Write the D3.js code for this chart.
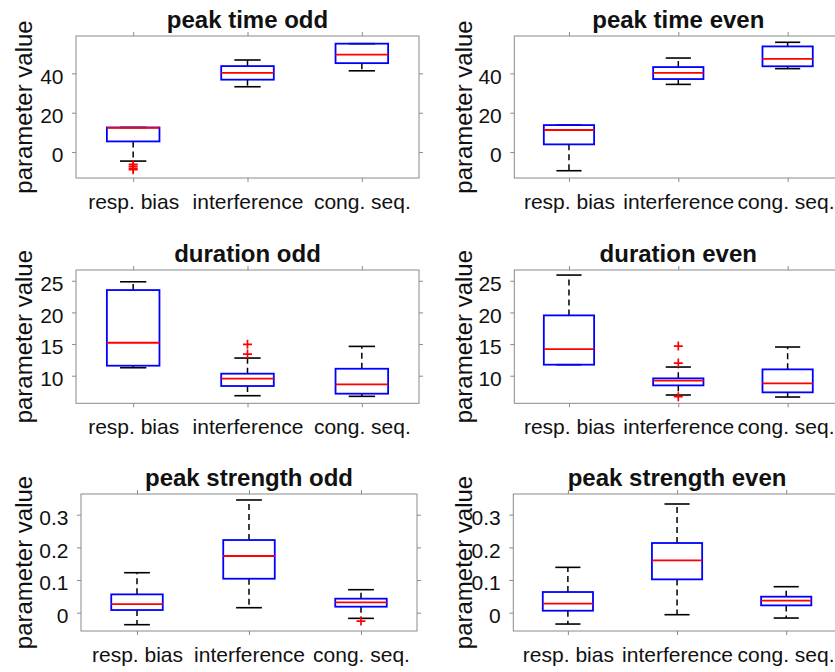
<!DOCTYPE html>
<html>
<head>
<meta charset="utf-8">
<script src="https://cdn.jsdelivr.net/npm/d3@7"></script>
<style>
  body { margin: 0; background: #fff; }
  svg { display: block; }
  text { font-family: "Liberation Sans", Arial, Helvetica, sans-serif; fill: #111; }
</style>
</head>
<body>
<svg id="chart" width="835" height="672"></svg>
<script>
// Groups on the x axis
const categories = ["resp. bias", "interference", "cong. seq."];

// Box statistics per group: [lower whisker, q1, median, q3, upper whisker]
const peakTimeOdd = [[-4.6, 5.4, 12.3, 12.5, 12.5], [33.2, 36.8, 40.3, 43.7, 46.8], [41.3, 45.2, 49.5, 55.1, 55.1]];
const peakTimeEven = [[-9.5, 3.9, 11.2, 13.7, 13.7], [34.4, 37.1, 40.3, 43.2, 47.8], [42.4, 43.6, 47.4, 53.7, 55.8]];
const durationOdd = [[11.26, 11.58, 15.21, 23.53, 24.84], [6.84, 8.37, 9.53, 10.32, 12.79], [6.74, 7.16, 8.63, 11.1, 14.63]];
const durationEven = [[11.74, 11.74, 14.21, 19.53, 25.9], [6.95, 8.47, 9.21, 9.58, 11.37], [6.63, 7.37, 8.79, 11.0, 14.53]];
const strengthOdd = [[-0.0367, 0.0082, 0.0265, 0.0561, 0.1224], [0.0153, 0.104, 0.1735, 0.2224, 0.345], [-0.0173, 0.0184, 0.0316, 0.0429, 0.0704]];
const strengthEven = [[-0.0347, 0.0061, 0.0276, 0.0633, 0.1388], [-0.0061, 0.102, 0.160, 0.2133, 0.3327], [-0.0163, 0.0224, 0.0367, 0.049, 0.0796]];

// Outliers per group
const peakTimeOddOut = [[-6.3, -7.3, -8.3, -9.0], [], []];
const peakTimeEvenOut = [[], [], []];
const durationOddOut = [[], [13.42, 14.95], []];
const durationEvenOut = [[], [12.0, 14.68, 6.68], []];
const strengthOddOut = [[], [], [-0.0255]];
const strengthEvenOut = [[], [], []];

// Panel titles, y limits and y tick values
const titles = ["peak time odd", "peak time even", "duration odd", "duration even", "peak strength odd", "peak strength even"];
const yLimits = [[-13.2, 59], [-13.2, 59], [5.64, 26.7], [5.64, 26.7], [-0.056, 0.3633], [-0.056, 0.3633]];
const yTicks = [[0, 20, 40], [0, 20, 40], [10, 15, 20, 25], [10, 15, 20, 25], [0, 0.1, 0.2, 0.3], [0, 0.1, 0.2, 0.3]];
const yTickLabels = [["0", "20", "40"], ["0", "20", "40"], ["10", "15", "20", "25"], ["10", "15", "20", "25"], ["0", "0.1", "0.2", "0.3"], ["0", "0.1", "0.2", "0.3"]];
const yLabel = "parameter value";

const stats = [peakTimeOdd, peakTimeEven, durationOdd, durationEven, strengthOdd, strengthEven];
const outliers = [peakTimeOddOut, peakTimeEvenOut, durationOddOut, durationEvenOut, strengthOddOut, strengthEvenOut];

// Axes frames [left, top, right, bottom] and y-label baseline x
const frames = [
  [76, 36, 419, 178], [514.3, 36, 842.3, 178],
  [76, 270, 419, 403.3], [514.3, 270, 842.3, 403.3],
  [81, 494, 417, 631], [513.3, 494, 840.8, 631]
];
const labelX = [31.5, 471.5, 31.5, 471.5, 31.5, 471.5];

const WIDTH = 835;
const BOX_W = 0.46;      // box width in category units
const CAP_W = BOX_W / 2; // whisker cap width
const TICK_FONT = 21, LABEL_FONT = 24;
const AXIS_COLOR = "#8a8a8a";

const svg = d3.select("#chart");

frames.forEach((f, i) => {
  const [L, T, R, B] = f;
  const x = d3.scaleLinear().domain([0.5, 3.5]).range([L, R]);
  const y = d3.scaleLinear().domain(yLimits[i]).range([B, T]);
  const g = svg.append("g");

  const styleAxis = sel => {
    sel.select(".domain").remove();
    sel.selectAll(".tick line").attr("stroke", AXIS_COLOR).attr("stroke-width", 1);
    sel.selectAll(".tick text").style("font-size", TICK_FONT + "px").attr("fill", "#111");
  };

  // Left axis with labels
  g.append("g").attr("transform", `translate(${L},0)`)
    .call(d3.axisLeft(y).tickValues(yTicks[i]).tickSize(4).tickPadding(8.5)
      .tickFormat((d, k) => yTickLabels[i][k]))
    .call(styleAxis)
    .call(s => s.selectAll(".tick text").attr("dy", "0.47em"));
  // Right axis ticks
  g.append("g").attr("transform", `translate(${R},0)`)
    .call(d3.axisRight(y).tickValues(yTicks[i]).tickSize(4).tickFormat(""))
    .call(styleAxis);
  // Bottom axis with category labels
  const bottomAxis = g.append("g").attr("transform", `translate(0,${B})`)
    .call(d3.axisBottom(x).tickValues([1, 2, 3]).tickSize(4).tickPadding(11.8)
      .tickFormat((d, k) => categories[k]))
    .call(styleAxis);
  // keep the last category label inside the page edge
  bottomAxis.selectAll(".tick").each(function () {
    const t = d3.select(this).select("text");
    const box = t.node().getBoundingClientRect();
    if (box.right > WIDTH - 0.5) t.attr("x", -(box.right - (WIDTH - 0.5)));
  });
  // Top axis ticks
  g.append("g").attr("transform", `translate(0,${T})`)
    .call(d3.axisTop(x).tickValues([1, 2, 3]).tickSize(4).tickFormat(""))
    .call(styleAxis);

  // Axes frame
  g.append("rect").attr("x", L).attr("y", T).attr("width", R - L).attr("height", B - T)
    .attr("fill", "none").attr("stroke", AXIS_COLOR).attr("stroke-width", 1);

  // Boxes
  stats[i].forEach((s, k) => {
    const [lo, q1, med, q3, hi] = s;
    const cx = k + 1;
    const bg = g.append("g");
    // dashed whiskers
    [[q3, hi], [q1, lo]].forEach(([a, b]) => {
      if (a !== b) {
        bg.append("line").attr("x1", x(cx)).attr("x2", x(cx)).attr("y1", y(a)).attr("y2", y(b))
          .attr("stroke", "#000").attr("stroke-width", 1.5).attr("stroke-dasharray", "6,4");
      }
    });
    // caps
    [lo, hi].forEach(v => {
      bg.append("line").attr("x1", x(cx - CAP_W / 2)).attr("x2", x(cx + CAP_W / 2))
        .attr("y1", y(v)).attr("y2", y(v)).attr("stroke", "#000").attr("stroke-width", 1.6);
    });
    // box
    bg.append("rect").attr("x", x(cx - BOX_W / 2)).attr("y", y(q3))
      .attr("width", x(cx + BOX_W / 2) - x(cx - BOX_W / 2)).attr("height", y(q1) - y(q3))
      .attr("fill", "none").attr("stroke", "#0000ff").attr("stroke-width", 1.8);
    // median
    bg.append("line").attr("x1", x(cx - BOX_W / 2)).attr("x2", x(cx + BOX_W / 2))
      .attr("y1", y(med)).attr("y2", y(med)).attr("stroke", "#ff0000").attr("stroke-width", 1.8);
    // outliers as red plus signs
    outliers[i][k].forEach(v => {
      const px = x(cx), py = y(v), r = 4.5;
      bg.append("path").attr("d", `M${px - r},${py}H${px + r}M${px},${py - r}V${py + r}`)
        .attr("stroke", "#ff0000").attr("stroke-width", 1.7).attr("fill", "none");
    });
  });

  // Title
  g.append("text").attr("x", (L + R) / 2).attr("y", T - 8).attr("text-anchor", "middle")
    .style("font-size", LABEL_FONT + "px").style("font-weight", "bold").text(titles[i]);

  // Y label
  g.append("text").attr("transform", `translate(${labelX[i]},${(T + B) / 2}) rotate(-90)`)
    .attr("text-anchor", "middle").style("font-size", LABEL_FONT + "px").text(yLabel);
});
</script>
</body>
</html>
